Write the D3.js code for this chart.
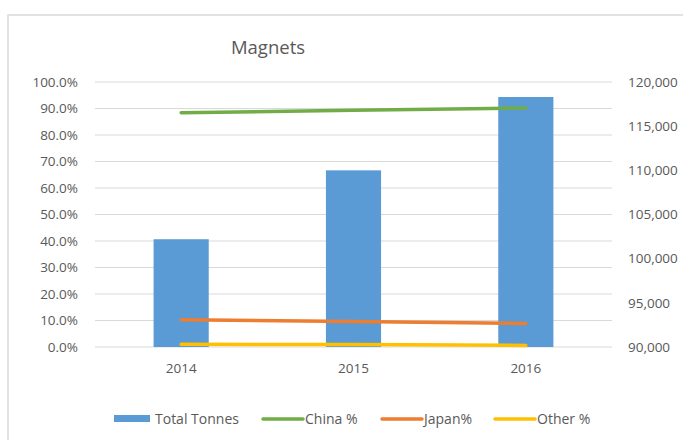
<!DOCTYPE html>
<html><head><meta charset="utf-8">
<script src="https://cdn.jsdelivr.net/npm/d3@7"></script>
<style>body{margin:0;background:#fff}svg{display:block}text{font-family:"Open Sans",sans-serif}</style>
</head><body>
<script>
const years = ["2014", "2015", "2016"];
const totalTonnes = [102200, 110000, 118300];
const chinaPct = [88.4, 89.3, 90.2];
const japanPct = [10.3, 9.6, 8.9];
const otherPct = [1.0, 0.9, 0.6];
const leftTicks = [0,10,20,30,40,50,60,70,80,90,100];
const rightTicks = [90000,95000,100000,105000,110000,115000,120000];
const legendLabels = ["Total Tonnes", "China %", "Japan%", "Other %"];
const colors = {bar:"#5b9bd5", china:"#70ad47", japan:"#ed7d31", other:"#ffc000"};

const FONT = "'Open Sans',sans-serif";
const W = 683, H = 440;
const m = {left:95, right:612, top:82, bottom:347};
const svg = d3.select("body").append("svg").attr("width", W).attr("height", H);

svg.append("rect").attr("x",8).attr("y",15).attr("width",W).attr("height",H)
  .attr("fill","#fff").attr("stroke","#d9d9d9").attr("stroke-width",1.5);

svg.append("text").attr("x",268).attr("y",54).attr("text-anchor","middle")
  .attr("font-size",18.5).attr("fill","#595959").text("Magnets");

const x = d3.scaleBand().domain(years).range([m.left, m.right]).paddingInner(0.68).paddingOuter(0.34);
const yL = d3.scaleLinear().domain([0,100]).range([m.bottom, m.top]);
const yR = d3.scaleLinear().domain([90000,120000]).range([m.bottom, m.top]);

// gridlines
svg.append("g").selectAll("line").data(leftTicks).join("line")
  .attr("x1",m.left).attr("x2",m.right).attr("y1",d=>yL(d)).attr("y2",d=>yL(d))
  .attr("stroke","#d9d9d9").attr("stroke-width",1);

// left axis
const axL = d3.axisLeft(yL).tickValues(leftTicks).tickFormat(d=>d.toFixed(1)+"%").tickSize(0).tickPadding(17);
const gL = svg.append("g").attr("transform",`translate(${m.left},0)`).call(axL);
gL.select(".domain").remove();
gL.selectAll("text").attr("font-size",13.5).attr("fill","#595959").style("font-family",FONT);

// right axis
const axR = d3.axisRight(yR).tickValues(rightTicks).tickFormat(d3.format(",")).tickSize(0).tickPadding(16);
const gR = svg.append("g").attr("transform",`translate(${m.right},0)`).call(axR);
gR.select(".domain").remove();
gR.selectAll("text").attr("font-size",13.5).attr("fill","#595959").style("font-family",FONT);

// x axis
const axX = d3.axisBottom(x).tickSize(0).tickPadding(16);
const gX = svg.append("g").attr("transform",`translate(0,${m.bottom})`).call(axX);
gX.select(".domain").remove();
gX.selectAll("text").attr("font-size",13.5).attr("fill","#595959").style("font-family",FONT);

// bars
svg.append("g").selectAll("rect").data(years).join("rect")
  .attr("x",d=>x(d)).attr("width",x.bandwidth())
  .attr("y",(d,i)=>yR(totalTonnes[i])).attr("height",(d,i)=>m.bottom - yR(totalTonnes[i]))
  .attr("fill",colors.bar);

// lines
const cx = d => x(d) + x.bandwidth()/2;
const series = [[chinaPct, colors.china],[japanPct, colors.japan],[otherPct, colors.other]];
series.forEach(([vals,c])=>{
  const line = d3.line().x((d,i)=>cx(years[i])).y(d=>yL(d));
  svg.append("path").datum(vals).attr("d",line).attr("fill","none")
    .attr("stroke",c).attr("stroke-width",3.5).attr("stroke-linecap","round");
});

// legend
const ly = 419;
const lg = svg.append("g");
const legendItems = [
  {label:legendLabels[0], color:colors.bar, type:"rect", x:114},
  {label:legendLabels[1], color:colors.china, type:"line", x:263},
  {label:legendLabels[2], color:colors.japan, type:"line", x:382},
  {label:legendLabels[3], color:colors.other, type:"line", x:495}
];
legendItems.forEach(it=>{
  if(it.type==="rect"){
    lg.append("rect").attr("x",it.x).attr("y",ly-4).attr("width",36).attr("height",7).attr("fill",it.color);
  } else {
    lg.append("line").attr("x1",it.x).attr("x2",it.x+40).attr("y1",ly).attr("y2",ly)
      .attr("stroke",it.color).attr("stroke-width",3.5).attr("stroke-linecap","round");
  }
  lg.append("text").attr("x",it.x+(it.type==="rect"?41:42)).attr("y",ly+5)
    .attr("font-size",14).attr("fill","#595959").text(it.label);
});
</script>
</body></html>
